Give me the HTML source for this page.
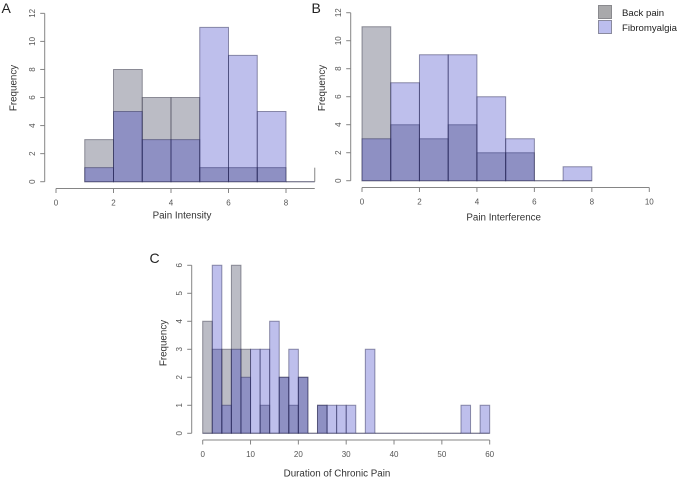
<!DOCTYPE html>
<html>
<head>
<meta charset="utf-8">
<style>
html,body{margin:0;padding:0;background:#fff;width:679px;height:478px;overflow:hidden}
svg{display:block;font-family:"Liberation Sans",sans-serif}
#root{filter:blur(0.35px)}
</style>
</head>
<body>
<svg id="chart" width="679" height="478" viewBox="0 0 679 478" xmlns="http://www.w3.org/2000/svg">
  <g id="root">
    <g>
      <g>
        <rect x="598.5" y="5.5" width="13" height="13" fill="#a9a9ab" stroke="#8a8a8e"/>
        <text x="622" y="16" font-size="9.6" fill="#222">Back pain</text>
      </g>
      <g>
        <rect x="598.5" y="20.5" width="13" height="13" fill="#bcbeee" stroke="#8a8a9e"/>
        <text x="622" y="31" font-size="9.6" fill="#222">Fibromyalgia</text>
      </g>
    </g>
  </g>
</svg>
<script>
// Panel A: Pain Intensity
const intensityBins = [1, 2, 3, 4, 5, 6, 7, 8, 9];
const intensityBackPain = [3, 8, 6, 6, 1, 1, 1, 0];
const intensityFibromyalgia = [1, 5, 3, 3, 11, 9, 5, 0];
const intensityXTicks = [0, 2, 4, 6, 8];
const intensityYTicks = [0, 2, 4, 6, 8, 10, 12];

// Panel B: Pain Interference
const interferenceBins = [0, 1, 2, 3, 4, 5, 6, 7, 8];
const interferenceBackPain = [11, 4, 3, 4, 2, 2, 0, 0];
const interferenceFibromyalgia = [3, 7, 9, 9, 6, 3, 0, 1];
const interferenceXTicks = [0, 2, 4, 6, 8, 10];
const interferenceYTicks = [0, 2, 4, 6, 8, 10, 12];

// Panel C: Duration of Chronic Pain
const durationBins = [0, 2, 4, 6, 8, 10, 12, 14, 16, 18, 20, 22, 24, 26, 28, 30, 32, 34, 36, 38, 40, 42, 44, 46, 48, 50, 52, 54, 56, 58, 60];
const durationBackPain = [4, 3, 3, 6, 3, 0, 1, 0, 2, 1, 2, 0, 1, 0, 0, 0, 0, 0, 0, 0, 0, 0, 0, 0, 0, 0, 0, 0, 0, 0];
const durationFibromyalgia = [0, 6, 1, 3, 2, 3, 3, 4, 2, 3, 2, 0, 1, 1, 1, 1, 0, 3, 0, 0, 0, 0, 0, 0, 0, 0, 0, 1, 0, 1];
const durationXTicks = [0, 10, 20, 30, 40, 50, 60];
const durationYTicks = [0, 1, 2, 3, 4, 5, 6];

const SVG_NS = 'http://www.w3.org/2000/svg';
const root = document.getElementById('root');

function make(tag, parent, attrs, text) {
  const el = document.createElementNS(SVG_NS, tag);
  for (const key in attrs) el.setAttribute(key, attrs[key]);
  if (text !== undefined) el.textContent = text;
  parent.appendChild(el);
  return el;
}

function drawSeries(group, seriesName, bins, values, x, y, fill, stroke) {
  values.forEach(function (value, i) {
    const x0 = x(bins[i]);
    const x1 = x(bins[i + 1]);
    const y0 = y(0);
    const y1 = y(value);
    const bar = make('path', group, {
      d: 'M' + x0 + ' ' + y0 + 'V' + y1 + 'H' + x1 + 'V' + y0 + 'Z',
      fill: fill,
      stroke: stroke,
      'stroke-width': 1
    });
    
    
  });
}

function drawPanel(p) {
  const x = function (v) { return p.x0 + (v - p.xStart) * p.xScale; };
  const y = function (v) { return p.y0 - v * p.yScale; };

  const panel = make('g', root, {});
  
  

  const letter = make('text', panel, {
    x: p.letterX, y: p.letterY, 'font-size': 14, fill: '#222'
  }, p.letter);
  
  

  const bars = make('g', panel, {});
  
  
  drawSeries(bars, 'back-pain', p.bins, p.back, x, y, 'rgba(112,114,134,0.48)', 'rgba(70,70,85,0.55)');
  drawSeries(bars, 'fibromyalgia', p.bins, p.fibro, x, y, 'rgba(30,36,190,0.29)', 'rgba(45,45,90,0.5)');

  // X axis
  const xAxis = make('g', panel, {});
  
  
  const xLine = make('line', xAxis, {
    x1: x(p.xTicks[0]), x2: x(p.xEnd), y1: p.xAxisY, y2: p.xAxisY, stroke: '#858585'
  });
  
  
  p.xTicks.forEach(function (t) {
    const tick = make('line', xAxis, {
      x1: x(t), x2: x(t), y1: p.xAxisY, y2: p.xAxisY + 4.5, stroke: '#858585'
    });
    
    
    const label = make('text', xAxis, {
      x: x(t), y: p.xAxisY + 16.8, 'font-size': 8, fill: '#555', 'text-anchor': 'middle'
    }, t);
    
    
  });
  const xTitle = make('text', xAxis, {
    x: p.xTitleX, y: p.xTitleY, 'font-size': p.xTitleSize, fill: '#333', 'text-anchor': 'middle'
  }, p.xTitle);
  
  

  // Y axis
  const yAxis = make('g', panel, {});
  
  
  const lastY = p.yTicks[p.yTicks.length - 1];
  const yLine = make('line', yAxis, {
    x1: p.yAxisX, x2: p.yAxisX, y1: y(0), y2: y(lastY), stroke: '#858585'
  });
  
  
  p.yTicks.forEach(function (t) {
    const tick = make('line', yAxis, {
      x1: p.yAxisX - 4.5, x2: p.yAxisX, y1: y(t), y2: y(t), stroke: '#858585'
    });
    
    
    const lx = p.yAxisX - 9.7;
    const label = make('text', yAxis, {
      x: lx, y: y(t), 'font-size': 8, fill: '#555', 'text-anchor': 'middle',
      transform: 'rotate(-90 ' + lx + ' ' + y(t) + ')'
    }, t);
    
    
  });
  const yTitle = make('text', yAxis, {
    x: p.yTitleX, y: p.yTitleY, 'font-size': 9.8, fill: '#333', 'text-anchor': 'middle',
    transform: 'rotate(-90 ' + p.yTitleX + ' ' + p.yTitleY + ')'
  }, 'Frequency');
  
  

  return { x: x, y: y, panel: panel };
}

const panelA = drawPanel({
  name: 'panel-a-pain-intensity', letter: 'A', letterX: 1.5, letterY: 13,
  bins: intensityBins, back: intensityBackPain, fibro: intensityFibromyalgia,
  xTicks: intensityXTicks, yTicks: intensityYTicks,
  x0: 56, xStart: 0, xScale: 28.75, xEnd: 9, y0: 181.7, yScale: 14.03,
  xAxisY: 188.5, yAxisX: 44.7,
  xTitle: 'Pain Intensity', xTitleX: 182, xTitleY: 218.5, xTitleSize: 9.8,
  yTitleX: 16.5, yTitleY: 88
});
const strayEdge = make('line', panelA.panel, {
  x1: panelA.x(9), x2: panelA.x(9), y1: panelA.y(0), y2: panelA.y(1), stroke: '#858585'
});



drawPanel({
  name: 'panel-b-pain-interference', letter: 'B', letterX: 311.5, letterY: 13,
  bins: interferenceBins, back: interferenceBackPain, fibro: interferenceFibromyalgia,
  xTicks: interferenceXTicks, yTicks: interferenceYTicks,
  x0: 362, xStart: 0, xScale: 28.73, xEnd: 10, y0: 180.7, yScale: 14,
  xAxisY: 187.5, yAxisX: 350.7,
  xTitle: 'Pain Interference', xTitleX: 503.7, xTitleY: 220.5, xTitleSize: 9.8,
  yTitleX: 325, yTitleY: 88
});

drawPanel({
  name: 'panel-c-duration', letter: 'C', letterX: 149.5, letterY: 263,
  bins: durationBins, back: durationBackPain, fibro: durationFibromyalgia,
  xTicks: durationXTicks, yTicks: durationYTicks,
  x0: 202.7, xStart: 0, xScale: 4.783, xEnd: 60, y0: 433.3, yScale: 28,
  xAxisY: 440, yAxisX: 191.7,
  xTitle: 'Duration of Chronic Pain', xTitleX: 337, xTitleY: 476.5, xTitleSize: 9.8,
  yTitleX: 166.5, yTitleY: 343
});
</script>
</body>
</html>
